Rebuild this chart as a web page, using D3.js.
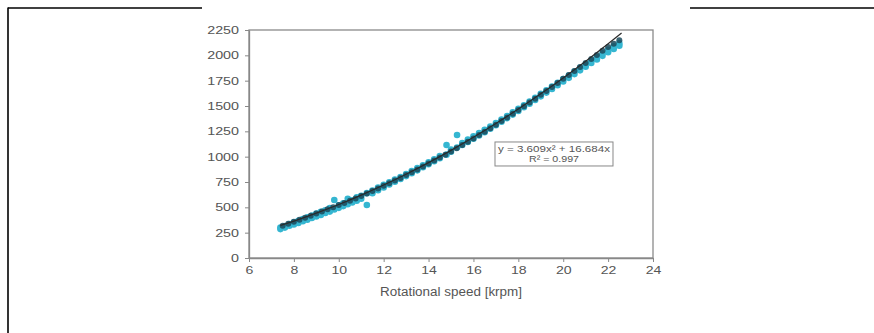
<!DOCTYPE html>
<html>
<head>
<meta charset="utf-8">
<script src="https://cdn.jsdelivr.net/npm/d3@7"></script>
<style>
  body { margin: 0; background: #fff; }
  svg { display: block; }
  .axis text { font-family: "Liberation Sans", Arial, sans-serif; font-size: 11px; fill: #555; }
  .axis path, .axis line { stroke: #888; }
</style>
</head>
<body>
<div id="chart"></div>
<script>
// measured points (light cyan)
const cyanX = [7.4,7.4,7.6,7.6,7.8,7.8,8.0,8.0,8.2,8.2,8.4,8.4,8.6,8.6,8.8,8.8,9.0,9.0,9.2,9.2,9.4,9.4,9.6,9.6,9.8,9.8,
  10.0,10.0,10.2,10.2,10.4,10.4,10.6,10.6,10.8,10.8,11.0,11.0,11.25,11.25,11.5,11.5,11.75,11.75,12.0,12.0,12.25,12.25,
  12.5,12.5,12.75,12.75,13.0,13.0,13.25,13.25,13.5,13.5,13.75,13.75,14.0,14.0,14.25,14.25,14.5,14.5,14.8,14.8,15.0,15.0,
  15.27,15.27,15.5,15.5,15.75,15.75,16.0,16.0,16.25,16.25,16.5,16.5,16.75,16.75,17.0,17.0,17.25,17.25,17.5,17.5,
  17.75,17.75,18.0,18.0,18.25,18.25,18.5,18.5,18.75,18.75,19.0,19.0,19.25,19.25,19.5,19.5,19.75,19.75,20.0,20.0,
  20.25,20.25,20.5,20.5,20.75,20.75,21.0,21.0,21.25,21.25,21.5,21.5,21.75,21.75,22.0,22.0,22.25,22.25,22.5,22.5];
const cyanY = [285,300,300,315,318,335,330,352,345,368,362,385,378,402,395,418,410,438,425,455,445,470,458,492,478,572,
  495,520,512,540,530,585,548,570,565,600,585,615,523,640,640,665,668,695,695,722,725,748,
  752,775,780,800,808,828,836,858,865,888,895,915,925,945,955,975,985,1005,1020,1115,1048,1070,
  1090,1214,1115,1135,1145,1168,1178,1200,1210,1232,1242,1265,1275,1298,1310,1332,1345,1366,1380,1402,
  1415,1437,1450,1472,1488,1508,1522,1545,1560,1582,1595,1620,1632,1655,1668,1692,1705,1728,1742,1765,
  1778,1800,1815,1840,1852,1876,1888,1912,1925,1948,1960,1985,1995,2020,2030,2055,2062,2088,2095,2118];

// measured points (dark)
const darkX = [7.5,7.75,8,8.25,8.5,8.75,9,9.25,9.5,9.75,10,10.25,10.5,10.75,11,11.25,11.5,11.75,12,12.25,12.5,12.75,
  13,13.25,13.5,13.75,14,14.25,14.5,14.75,15,15.25,15.5,15.75,16,16.25,16.5,16.75,17,17.25,17.5,17.75,18,18.25,18.5,
  18.75,19,19.25,19.5,19.75,20,20.25,20.5,20.75,21,21.25,21.5,21.75,22,22.25,22.5];
const darkY = [318,338,358,378,398,418,440,460,480,500,522,543,565,588,612,636,660,686,712,738,764,790,
  818,846,874,903,932,962,992,1020,1050,1082,1114,1147,1180,1213,1247,1281,1315,1351,1387,1423,1460,1497,1535,
  1572,1610,1649,1688,1728,1768,1806,1845,1884,1924,1964,2004,2044,2082,2115,2148];

// polynomial trendline, as printed on the chart
const trendA = 3.609;
const trendB = 16.684;
const trendX = [7.4,8,9,10,11,12,13,14,15,16,17,18,19,20,21,22,22.6];

const xTicks = [6,8,10,12,14,16,18,20,22,24];
const yTicks = [0,250,500,750,1000,1250,1500,1750,2000,2250];

const svg = d3.select("#chart").append("svg")
  .attr("width", 874)
  .attr("height", 333);

// page frame lines
svg.append("line").attr("x1", 8).attr("x2", 8).attr("y1", 7.5).attr("y2", 333)
  .attr("stroke", "#000").attr("stroke-width", 1.6);
svg.append("line").attr("x1", 8).attr("x2", 202).attr("y1", 8).attr("y2", 8)
  .attr("stroke", "#000").attr("stroke-width", 1.4);
svg.append("line").attr("x1", 690).attr("x2", 874).attr("y1", 8).attr("y2", 8)
  .attr("stroke", "#000").attr("stroke-width", 1.4);

const margin = {top: 30, right: 221, bottom: 75, left: 249};
const width = 874 - margin.left - margin.right;
const height = 333 - margin.top - margin.bottom;

const g = svg.append("g").attr("transform", `translate(${margin.left},${margin.top})`);

const x = d3.scaleLinear().domain([6, 24]).range([0, width]);
const y = d3.scaleLinear().domain([0, 2250]).range([height, 0]);

// plot box
g.append("rect")
  .attr("width", width).attr("height", height)
  .attr("fill", "none").attr("stroke", "#8a8a8a").attr("stroke-width", 1.3);

// axes (the source picture is stretched sideways, so labels get a horizontal scale)
g.append("g")
  .attr("class", "axis x-axis")
  .attr("transform", `translate(0,${height})`)
  .call(d3.axisBottom(x).tickValues(xTicks).tickFormat(d3.format("d"))
    .tickSize(4).tickSizeOuter(0).tickPadding(4));

g.append("g")
  .attr("class", "axis y-axis")
  .call(d3.axisLeft(y).tickValues(yTicks).tickFormat(d3.format("d"))
    .tickSize(4).tickSizeOuter(0).tickPadding(5));

g.selectAll(".axis").attr("color", "#555");
g.selectAll(".axis .domain").attr("stroke-width", 1.3);
g.selectAll(".x-axis .tick text").attr("transform", "scale(1.28,1)");
g.selectAll(".y-axis .tick text").attr("x", 0).attr("transform", "translate(-10,0) scale(1.3,1)");

// axis title
g.append("text")
  .attr("x", width / 2)
  .attr("y", height + 38)
  .attr("text-anchor", "middle")
  .attr("textLength", 142)
  .attr("lengthAdjust", "spacingAndGlyphs")
  .style("font-family", "Liberation Sans, Arial, sans-serif")
  .style("font-size", "12px")
  .style("fill", "#555")
  .text("Rotational speed [krpm]");

// scatter
const cyanData = cyanX.map((d, i) => ({x: d, y: cyanY[i]}));
const darkData = darkX.map((d, i) => ({x: d, y: darkY[i]}));

g.selectAll(".pt-cyan")
  .data(cyanData)
  .enter().append("circle")
    .attr("class", "pt-cyan")
    .attr("cx", d => x(d.x))
    .attr("cy", d => y(d.y))
    .attr("r", 3.3)
    .attr("fill", "#35b6d1");

g.selectAll(".pt-dark")
  .data(darkData)
  .enter().append("circle")
    .attr("class", "pt-dark")
    .attr("cx", d => x(d.x))
    .attr("cy", d => y(d.y))
    .attr("r", 3)
    .attr("fill", "#1b4a5c")
    .attr("opacity", 0.85);

// trendline
const line = d3.line()
  .x(d => x(d))
  .y(d => y(trendA * d * d + trendB * d))
  .curve(d3.curveMonotoneX);

g.append("path")
  .datum(trendX)
  .attr("fill", "none")
  .attr("stroke", "#2a2a2a")
  .attr("stroke-width", 1.2)
  .attr("d", line);

// equation label box
const boxX = x(16.96), boxY = y(1145);
g.append("rect")
  .attr("x", boxX).attr("y", boxY)
  .attr("width", 118).attr("height", 24)
  .attr("fill", "#fff").attr("stroke", "#888").attr("stroke-width", 1);

const eqStyle = sel => sel
  .attr("text-anchor", "middle")
  .attr("lengthAdjust", "spacingAndGlyphs")
  .style("font-family", "Liberation Sans, Arial, sans-serif")
  .style("font-size", "9px")
  .style("fill", "#555");

g.append("text").call(eqStyle)
  .attr("x", boxX + 59).attr("y", boxY + 10)
  .attr("textLength", 112)
  .text("y = 3.609x² + 16.684x");

g.append("text").call(eqStyle)
  .attr("x", boxX + 59).attr("y", boxY + 20)
  .attr("textLength", 50)
  .text("R² = 0.997");
</script>
</body>
</html>
